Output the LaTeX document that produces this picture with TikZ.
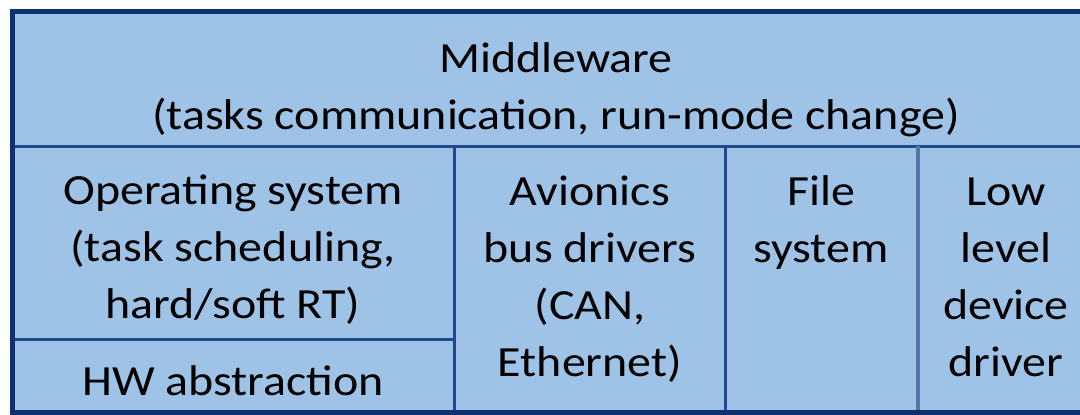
\documentclass[tikz,border=0pt]{standalone}
\usepackage{fontspec}
\setmainfont{Carlito}[FakeStretch=1.115]
\usetikzlibrary{positioning}

\definecolor{cellfill}{RGB}{159,194,231}
\definecolor{frameblue}{RGB}{12,48,112}
\definecolor{ruleblue}{RGB}{32,74,142}
\definecolor{softrule}{RGB}{86,116,170}

\begin{document}
\begin{tikzpicture}[x=1pt,y=-1pt,
    celltext/.style={align=center,anchor=base,inner sep=0pt,font=\fontsize{43}{57}\selectfont},
    rule/.style={draw=ruleblue,line width=3pt},
    frame/.style={draw=frameblue,line width=5pt}]
    \useasboundingbox (0,0) rectangle (1080,415);
    \fill[white] (0,0) rectangle (1080,415);
    \fill[cellfill] (12,11) rectangle (1096,412);
    % inner rules of the table
    \draw[rule] (12,146) -- (1096,146);
    \draw[rule] (12,339) -- (454,339);
    \draw[rule] (454,146) -- (454,412);
    \draw[rule] (725,146) -- (725,412);
    \draw[draw=softrule,line width=4pt] (918,146) -- (918,412);
    \draw[frame] (12,11) rectangle (1096,412);
    % cell texts (anchored at the baseline of the last line)
    \node[celltext] (mw) at (556,129) {Middleware\\(tasks communication, run-mode change)};
    \node[celltext] (os) at (233,318) {Operating system\\(task scheduling,\\hard/soft RT)};
    \node[celltext] (hw) at (233,395) {HW abstraction};
    \node[celltext] (avb) at (590,376) {Avionics\\bus drivers\\(CAN,\\Ethernet)};
    \node[celltext] (fs) at (821,262) {File\\system};
    \node[celltext] (lld) at (1006,376) {Low\\level\\device\\driver};
\end{tikzpicture}
\end{document}
